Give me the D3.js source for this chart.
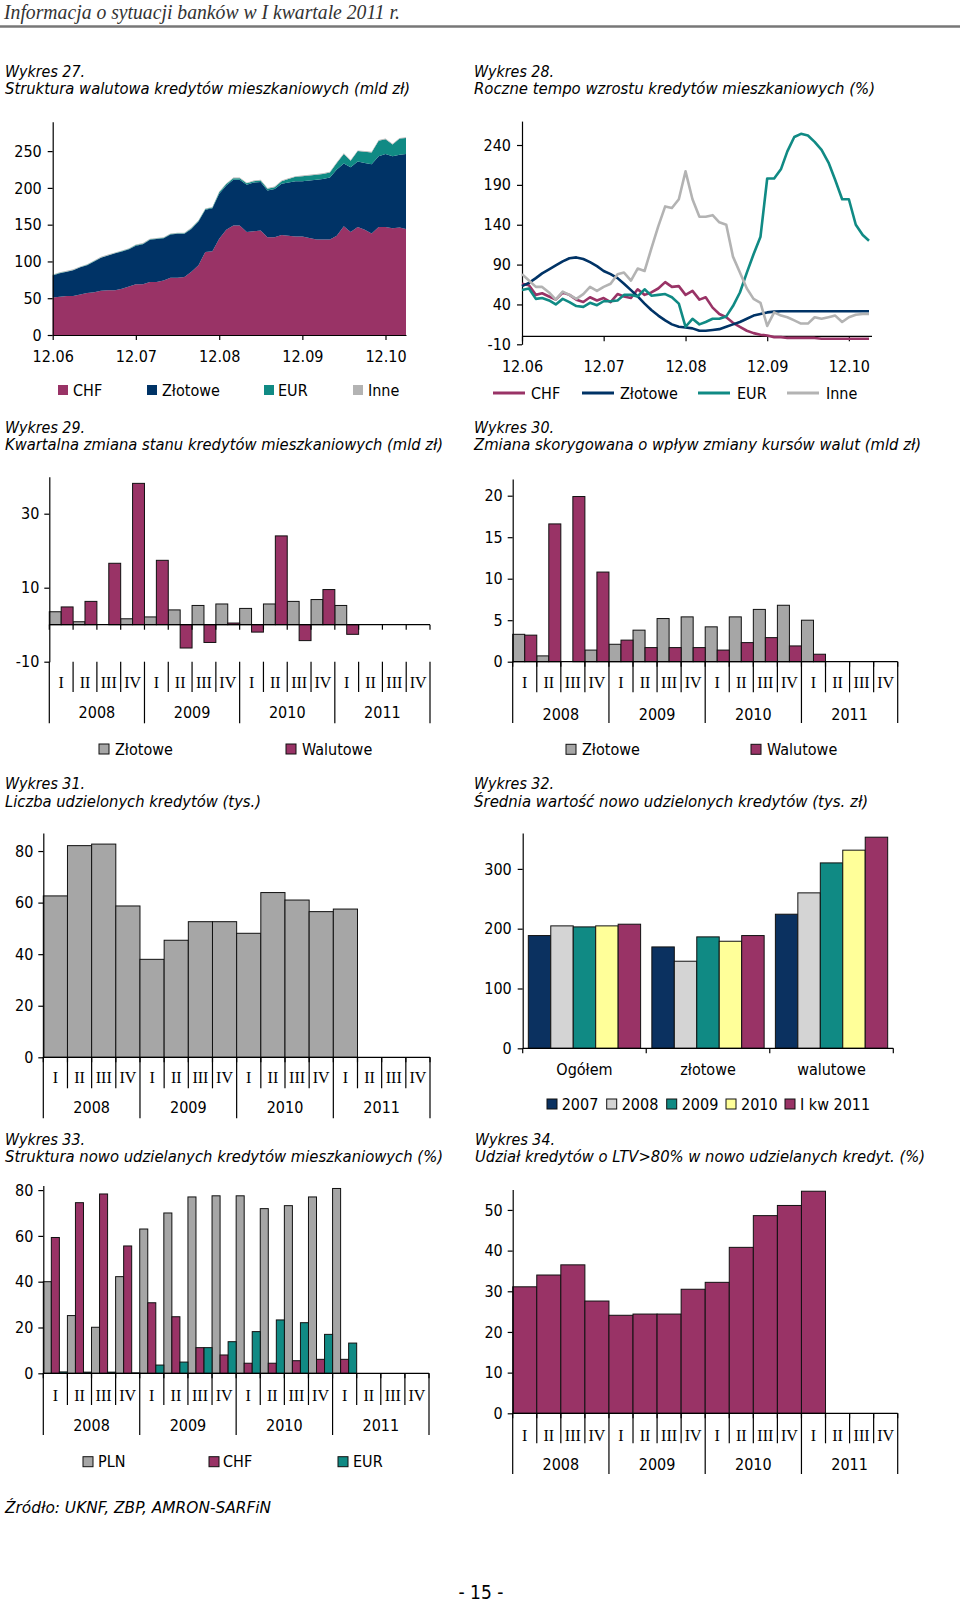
<!DOCTYPE html>
<html><head><meta charset="utf-8">
<script src="https://cdn.jsdelivr.net/npm/d3@7"></script>
<style>
body{margin:0;background:#fff}
svg{display:block}
text{font-family:"DejaVu Sans Condensed","DejaVu Sans",sans-serif;font-stretch:condensed;fill:#000}
</style></head><body>
<svg id="c" width="960" height="1605"></svg>
<script>
// ---------------- DATA ----------------
// Wykres 27 (mld zł), monthly 12.06 - 03.11
const keys27 = ["CHF","Złotowe","EUR","Inne"];
const chf27 = [51,52,53,53,55,57,58,60,61,61, 63,66,69,69,72,72,74,78,78,79, 86,95,113,114,131,143,149,149,140,141, 142,133,133,136,135,134,134,132,130,130, 130,135,148,140,147,143,138,147,147,145, 146,144];
const zl27  = [30,32,33,35,37,38,42,45,47,50, 50.5,50.5,52.5,54.5,57.5,58.5,57.5,58.5,59.5,58.5, 58.2,59.2,57.2,58.2,61.2,60.2,62.2,62.2,64.2,66.2, 66,63.5,65.5,69.5,72.5,75,75,78,81,82, 84,90,85,88,89,91,94,96,99,98, 99,102];
const eur27 = [0.5,0.5,0.5,0.5,0.5,0.5,0.5,0.5,0.5,0.5, 0.7,0.7,0.7,0.7,0.7,0.7,0.7,0.7,0.7,0.7, 1,1,1,1,2,2,2,2,2,2, 2,2.5,2.5,3.5,4.5,6,7,7,7,7, 7,9,13,9,14,15,16,21,20,16, 22,22];
const inne27 = [0.8,0.8,0.8,0.8,0.8,0.8,0.8,0.8,0.8,0.8, 0.8,0.8,0.8,0.8,0.8,0.8,0.8,0.8,0.8,0.8, 0.8,0.8,0.8,0.8,0.8,0.8,0.8,0.8,0.8,0.8, 1,1,1,1,1,1,1,1,1,1, 1,1,1,1,1,1,1,1,1,1, 1,1];
const ticks27 = [0,50,100,150,200,250];

// Wykres 28 (%), monthly 12.06 - 03.11
const chf28 = [66,64,52,54,50,46,55,52,46,43, 49,45,48,43,53,50,48,59,52,55, 60,68,62,63,52,57,46,49,36,28, 24,17,12,7,4,2,1,-1,-1,-2, -2,-2,-2,-2,-3,-3,-3,-3,-3,-3, -3,-3];
const zl28  = [63,67,73,79,84,89,94,98,99,97, 93,88,82,78,73,66,58,50,41,33, 26,20,15,12,11,10,7,7,8,9, 12,15,18,22,26,28,30,31,31.5,31.5, 31.5,31.5,31.5,31.5,31.5,31.5,31.5,31.5,31.5,31.5, 31.5,31.5];
const eur28 = [58,60,47,48,45,40,47,43,38,37, 42,39,44,44,45,52,52,50,59,51, 52,53,49,41,12,22,15,18,22,22, 25,38,55,80,103,125,198,198,210,232, 250,254,252,244,234,218,196,172,172,140, 127,120];
const inne28 = [78,70,62,62,55,46,56,52,47,53, 62,57,62,66,78,80,70,85,82,110, 138,163,161,172,207,172,150,150,152,143, 140,100,80,60,47,42,13,30,26,24, 20,16,16,24,22,24,26,18,24,27, 28,28];
const ticks28 = [-10,40,90,140,190,240];

// quarterly categories
const quarters = ["I","II","III","IV"];
const qYears = ["2008","2009","2010","2011"];

// Wykres 29 (mld zł)
const zl29  = [3.5,0.8,0,1.6,2.1,4.0,5.2,5.6,4.4,5.6,6.3,6.8,5.2];
const wal29 = [4.8,6.3,16.6,38.2,17.4,-6.3,-4.8,0.45,-2.0,24.0,-4.3,9.5,-2.6];
const ticks29 = [-10,10,30];

// Wykres 30 (mld zł)
const zl30  = [3.3,0.7,0,1.4,2.1,3.8,5.2,5.4,4.2,5.4,6.3,6.8,5.0];
const wal30 = [3.2,16.6,19.9,10.8,2.6,1.7,1.7,1.7,1.4,2.3,2.9,1.9,0.9];
const ticks30 = [0,5,10,15,20];

// Wykres 31 (tys.)
const liczba31 = [62.6,82.1,82.7,58.7,38.0,45.4,52.6,52.6,48.1,63.9,61.0,56.5,57.5];
const ticks31 = [0,20,40,60,80];

// Wykres 32 (tys. zł)
const cats32 = ["Ogółem","złotowe","walutowe"];
const years32 = ["2007","2008","2009","2010","I kw 2011"];
const v2007 = [188.5,169.5,224.2];
const v2008 = [204.7,145.6,259.9];
const v2009 = [203,186.3,310];
const v2010 = [204.7,179,331.3];
const v2011 = [207.5,188.5,353];
const ticks32 = [0,100,200,300];

// Wykres 33 (%)
const pln33 = [40,25.2,20.1,42.2,63,70,77,77.5,77.5,71.9,73.2,77,80.7];
const chf33 = [59.3,74.5,78.3,55.6,30.8,24.7,11.2,8,4.4,4.4,5.5,6.1,6.1];
const eur33 = [0.6,0.5,0.5,0.2,3.6,4.9,11.2,13.8,18.2,23.3,22.1,17,13.2];
const ticks33 = [0,20,40,60,80];

// Wykres 34 (%)
const ltv34 = [31.1,34.0,36.5,27.6,24.1,24.4,24.4,30.5,32.2,40.8,48.6,51.1,54.6];
const ticks34 = [0,10,20,30,40,50];

// ---------------- STYLE ----------------
const C_CHF="#993366", C_ZL="#003366", C_EUR="#108a84", C_INNE="#b3b3b3", C_GRAY="#a6a6a6";
const FS=16;
const plain = d=>String(d);

const svg = d3.select("#c");
svg.append("rect").attr("width",960).attr("height",1605).attr("fill","#fff");

// header
svg.append("text").attr("x",4).attr("y",19).attr("font-size",21)
  .style("font-family","'Liberation Serif',serif").style("font-style","italic").style("font-stretch","normal")
  .style("fill","#333")
  .attr("textLength",396).attr("lengthAdjust","spacingAndGlyphs")
  .text("Informacja o sytuacji banków w I kwartale 2011 r.");
svg.append("line").attr("x1",0).attr("x2",960).attr("y1",26.5).attr("y2",26.5).attr("stroke","#777").attr("stroke-width",2.5);

// titles
const titles = [
 ["Wykres 27.","Struktura walutowa kredytów mieszkaniowych (mld zł)",5,76.7,405],
 ["Wykres 28.","Roczne tempo wzrostu kredytów mieszkaniowych (%)",474,76.7,401],
 ["Wykres 29.","Kwartalna zmiana stanu kredytów mieszkaniowych (mld zł)",5,432.8,438],
 ["Wykres 30.","Zmiana skorygowana o wpływ zmiany kursów walut (mld zł)",474,432.8,447],
 ["Wykres 31.","Liczba udzielonych kredytów (tys.)",5,789,256],
 ["Wykres 32.","Średnia wartość nowo udzielonych kredytów (tys. zł)",474,789,394],
 ["Wykres 33.","Struktura nowo udzielanych kredytów mieszkaniowych (%)",5,1144.5,438],
 ["Wykres 34.","Udział kredytów o LTV>80% w nowo udzielanych kredyt. (%)",475,1144.5,450]
];
titles.forEach(([a,b,x,y,w])=>{
  svg.append("text").attr("x",x).attr("y",y).attr("font-size",15.5).style("font-style","italic")
    .attr("textLength",80).attr("lengthAdjust","spacingAndGlyphs").text(a);
  svg.append("text").attr("x",x).attr("y",y+17.6).attr("font-size",15.5).style("font-style","italic")
    .attr("textLength",w).attr("lengthAdjust","spacingAndGlyphs").text(b);
});

function styleAxis(ax){
  ax.attr("font-size",FS).attr("font-family",null);
  ax.selectAll("path,line").attr("stroke","#000").attr("stroke-width",1.2);
}

function legend(items, y, boxed){
  items.forEach(it=>{
    if(it.line){
      svg.append("line").attr("x1",it.x).attr("x2",it.x+32).attr("y1",y).attr("y2",y)
        .attr("stroke",it.color).attr("stroke-width",3);
    } else {
      svg.append("rect").attr("x",it.x).attr("y",y-5).attr("width",10).attr("height",10)
        .attr("fill",it.color).attr("stroke",boxed?"#111":"none").attr("stroke-width",1);
    }
    svg.append("text").attr("x",it.tx).attr("y",y+5.5).attr("font-size",FS).text(it.label);
  });
}

// ---------------- Wykres 27 ----------------
const months = d3.range(52).map(i=>new Date(2006,11+i,1));
const yearTicks = months.filter(d=>d.getMonth()===11);
{
  const x = d3.scaleTime().domain([months[0], months[51]]).range([52.7,406]);
  const y = d3.scaleLinear().domain([0,290]).range([335,121.7]);
  const rows = months.map((d,i)=>({date:d,"CHF":chf27[i],"Złotowe":zl27[i],"EUR":eur27[i],"Inne":inne27[i]}));
  const st = d3.stack().keys(keys27)(rows);
  const cols = [C_CHF,C_ZL,C_EUR,C_INNE];
  const area = d3.area().x(d=>x(d.data.date)).y0(d=>y(d[0])).y1(d=>y(d[1]));
  svg.append("g").selectAll("path").data(st).join("path").attr("d",area).attr("fill",(d,i)=>cols[i]);
  const ay = svg.append("g").attr("transform","translate(52.7,0)")
    .call(d3.axisLeft(y).tickValues(ticks27).tickFormat(plain).tickSize(5).tickPadding(6).tickSizeOuter(0));
  styleAxis(ay);
  const ax = svg.append("g").attr("transform",`translate(0,${y(0)})`)
    .call(d3.axisBottom(x).tickValues(yearTicks).tickFormat(d3.timeFormat("%m.%y")).tickSize(5).tickSizeOuter(0));
  styleAxis(ax);
  ax.selectAll("text").attr("y",27).attr("dy",0);
  legend(keys27.map((k,i)=>({label:k,color:cols[i],x:[58,147,264,353][i],tx:[73,162,278,368][i]})),390,false);
}

// ---------------- Wykres 28 ----------------
{
  const x = d3.scaleTime().domain([months[0], months[51]]).range([522,869]);
  const y = d3.scaleLinear().domain([-10,270]).range([344.3,121.1]);
  const series = [[chf28,C_CHF],[zl28,C_ZL],[eur28,C_EUR],[inne28,C_INNE]];
  const ay = svg.append("g").attr("transform","translate(522,0)")
    .call(d3.axisLeft(y).tickValues(ticks28).tickFormat(plain).tickSize(5).tickPadding(6).tickSizeOuter(0));
  styleAxis(ay);
  const ax = svg.append("g").attr("transform",`translate(0,${y(0)})`)
    .call(d3.axisBottom(x).tickValues(yearTicks).tickFormat(d3.timeFormat("%m.%y")).tickSize(5).tickSizeOuter(0));
  styleAxis(ax);
  ax.select(".domain").attr("d","M522,0H872");
  ax.selectAll("text").attr("y",35.2).attr("dy",0);
  const line = d3.line().x((d,i)=>x(months[i])).y(d=>y(d));
  series.forEach(([v,c])=>{
    svg.append("path").attr("d",line(v)).attr("fill","none").attr("stroke",c).attr("stroke-width",2.6)
      .attr("stroke-linejoin","round");
  });
  legend(keys27.map((k,i)=>({label:k,color:series[i][1],line:true,x:[493,582,698,787][i],tx:[531,620,737,826][i]})),393,false);
}

// ---------------- quarterly bar charts ----------------
function quarterChart(cfg){
  const g = svg.append("g");
  const xb = d3.scaleBand().domain(d3.range(16)).range([cfg.x0,cfg.x1]);
  const bw = xb.bandwidth();
  const y = d3.scaleLinear().domain(cfg.domain).range(cfg.range);
  const n = cfg.series.length;
  cfg.series.forEach((s,k)=>{
    g.append("g").selectAll("rect").data(s.values).join("rect")
      .attr("x",(d,i)=>xb(i)+k*bw/n).attr("width",bw/n)
      .attr("y",d=>Math.min(y(d),y(0))).attr("height",d=>Math.abs(y(d)-y(0)))
      .attr("fill",s.color).attr("stroke",d=>d===0?"none":"#111").attr("stroke-width",1);
  });
  g.append("line").attr("x1",cfg.x0).attr("x2",cfg.x1).attr("y1",y(0)).attr("y2",y(0)).attr("stroke","#000").attr("stroke-width",1.2);
  g.append("g").selectAll("line").data(d3.range(17)).join("line")
    .attr("x1",i=>cfg.x0+i*bw).attr("x2",i=>cfg.x0+i*bw).attr("y1",y(0)).attr("y2",y(0)+5)
    .attr("stroke","#000").attr("stroke-width",1.2);
  const ay = g.append("g").attr("transform",`translate(${cfg.x0},0)`)
    .call(d3.axisLeft(y).tickValues(cfg.ticks).tickFormat(plain).tickSize(5).tickPadding(5).tickSizeOuter(0));
  styleAxis(ay);
  const yTop = y(cfg.domain[0]);
  g.append("g").selectAll("line").data(d3.range(17)).join("line")
    .attr("x1",i=>cfg.x0+i*bw).attr("x2",i=>cfg.x0+i*bw)
    .attr("y1",yTop).attr("y2",i=>i%4===0?cfg.yearBottom:cfg.qBottom)
    .attr("stroke","#000").attr("stroke-width",1.2);
  g.append("g").selectAll("text").data(d3.range(16)).join("text")
    .attr("x",i=>xb(i)+bw/2).attr("y",cfg.romanY).attr("text-anchor","middle").attr("font-size",FS)
    .style("font-family","'Liberation Serif',serif").style("font-stretch","normal")
    .text(i=>quarters[i%4]);
  g.append("g").selectAll("text").data(qYears).join("text")
    .attr("x",(d,j)=>cfg.x0+(4*j+2)*bw).attr("y",cfg.yearY).attr("text-anchor","middle").attr("font-size",FS)
    .text(d=>d);
}

quarterChart({x0:49.3,x1:430,domain:[-10,40],range:[661.7,476.7],ticks:ticks29,
  series:[{values:zl29,color:C_GRAY},{values:wal29,color:C_CHF}],
  qBottom:692,yearBottom:723.3,romanY:687.5,yearY:718});
legend([{label:"Złotowe",color:C_GRAY,x:99,tx:115},{label:"Walutowe",color:C_CHF,x:286,tx:302}],749,true);

quarterChart({x0:512.7,x1:897.7,domain:[0,22],range:[661.7,479.1],ticks:ticks30,
  series:[{values:zl30,color:C_GRAY},{values:wal30,color:C_CHF}],
  qBottom:692.3,yearBottom:723,romanY:688,yearY:719.5});
legend([{label:"Złotowe",color:C_GRAY,x:566,tx:582},{label:"Walutowe",color:C_CHF,x:751,tx:767}],749.3,true);

quarterChart({x0:43.3,x1:430,domain:[0,87],range:[1057.3,833],ticks:ticks31,
  series:[{values:liczba31,color:C_GRAY}],
  qBottom:1088.3,yearBottom:1118.3,romanY:1083,yearY:1113});

quarterChart({x0:43.3,x1:429,domain:[0,82],range:[1373.3,1185.5],ticks:ticks33,
  series:[{values:pln33,color:C_GRAY},{values:chf33,color:C_CHF},{values:eur33,color:C_EUR}],
  qBottom:1405,yearBottom:1435,romanY:1400.5,yearY:1430.5});
legend([{label:"PLN",color:C_GRAY,x:83,tx:98},{label:"CHF",color:C_CHF,x:209,tx:223},{label:"EUR",color:C_EUR,x:338,tx:353}],1461.7,true);

quarterChart({x0:512.7,x1:897.7,domain:[0,55],range:[1413.3,1189.6],ticks:ticks34,
  series:[{values:ltv34,color:C_CHF}],
  qBottom:1443.3,yearBottom:1474,romanY:1440.5,yearY:1469.5});

// ---------------- Wykres 32 ----------------
{
  const cols = ["#0b3160","#d4d4d4",C_EUR,"#ffff99",C_CHF];
  const vals = [v2007,v2008,v2009,v2010,v2011];
  const x0 = d3.scaleBand().domain(cats32).range([522.7,893.3]);
  const x1 = d3.scaleBand().domain(years32).range([0,x0.bandwidth()]).paddingOuter(0.25);
  const y = d3.scaleLinear().domain([0,360]).range([1048.3,833]);
  years32.forEach((yr,k)=>{
    svg.append("g").selectAll("rect").data(vals[k]).join("rect")
      .attr("x",(d,i)=>x0(cats32[i])+x1(yr)).attr("width",x1.bandwidth())
      .attr("y",d=>y(d)).attr("height",d=>y(0)-y(d))
      .attr("fill",cols[k]).attr("stroke","#111").attr("stroke-width",1);
  });
  const ay = svg.append("g").attr("transform","translate(522.7,0)")
    .call(d3.axisLeft(y).tickValues(ticks32).tickFormat(plain).tickSize(5).tickPadding(6).tickSizeOuter(0));
  styleAxis(ay);
  svg.append("line").attr("x1",522.7).attr("x2",893.3).attr("y1",y(0)).attr("y2",y(0)).attr("stroke","#000").attr("stroke-width",1.2);
  svg.append("g").selectAll("line").data(d3.range(4)).join("line")
    .attr("x1",i=>522.7+i*x0.bandwidth()).attr("x2",i=>522.7+i*x0.bandwidth())
    .attr("y1",y(0)).attr("y2",y(0)+5).attr("stroke","#000").attr("stroke-width",1.2);
  svg.append("g").selectAll("text").data(cats32).join("text")
    .attr("x",d=>x0(d)+x0.bandwidth()/2).attr("y",1075).attr("text-anchor","middle").attr("font-size",FS).text(d=>d);
  legend(years32.map((yr,k)=>({label:yr,color:cols[k],x:[547,606.7,666.7,726,785][k],tx:[561.7,621.7,681.7,741,800][k]})),1104,true);
}

// footer
svg.append("text").attr("x",5).attr("y",1512.5).attr("font-size",15).style("font-style","italic")
  .attr("textLength",266).attr("lengthAdjust","spacingAndGlyphs").text("Źródło: UKNF, ZBP, AMRON-SARFiN");
svg.append("text").attr("x",481).attr("y",1599).attr("font-size",19).attr("text-anchor","middle").text("- 15 -");
</script>
</body></html>
